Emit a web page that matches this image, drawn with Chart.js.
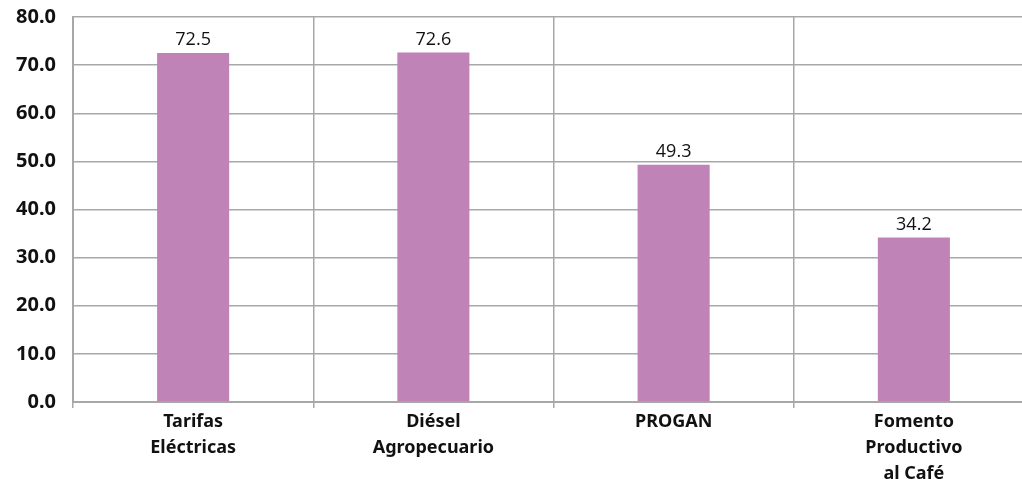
<!DOCTYPE html>
<html>
<head>
<meta charset="utf-8">
<script src="https://cdn.jsdelivr.net/npm/chart.js@4/dist/chart.umd.min.js"></script>
<style>
  html, body { margin: 0; padding: 0; background: #fff; overflow: hidden; }
  #wrap { width: 1036px; height: 479px; }
</style>
</head>
<body>
<div id="wrap"><canvas id="bars" width="1036" height="479"></canvas></div>
<script>
const categories = [
  ['Tarifas', 'Eléctricas'],
  ['Diésel', 'Agropecuario'],
  ['PROGAN'],
  ['Fomento', 'Productivo', 'al Café']
];
const values = [72.5, 72.6, 49.3, 34.2];
const yTicks = { min: 0, max: 80, step: 10 };

const gridColor = '#a8a8a8';

// labels over each bar
const valueLabels = {
  id: 'valueLabels',
  afterDatasetsDraw(chart) {
    const ctx = chart.ctx;
    const meta = chart.getDatasetMeta(0);
    ctx.save();
    ctx.font = '18px "Open Sans", sans-serif';
    ctx.fillStyle = '#111';
    ctx.textAlign = 'center';
    ctx.textBaseline = 'bottom';
    meta.data.forEach((bar, i) => {
      ctx.fillText(values[i].toFixed(1), bar.x, bar.y - 4);
    });
    ctx.restore();
  }
};

new Chart(document.getElementById('bars'), {
  type: 'bar',
  data: {
    labels: categories,
    datasets: [{
      data: values,
      backgroundColor: '#bf83b8',
      barPercentage: 0.3,
      categoryPercentage: 1.0
    }]
  },
  options: {
    responsive: false,
    animation: false,
    layout: { padding: { top: 17, right: 2, left: 0, bottom: 0 } },
    plugins: { legend: { display: false }, tooltip: { enabled: false } },
    scales: {
      x: {
        afterFit(scale) {
          scale.height = 77;
          scale.paddingLeft = 0;
          scale.paddingRight = 0;
        },
        grid: {
          offset: true,
          color: gridColor,
          lineWidth: 1.5,
          tickLength: 6
        },
        border: { color: gridColor, width: 2 },
        ticks: {
          color: '#111',
          padding: 1,
          maxRotation: 0,
          font: { family: '"Noto Sans", sans-serif', size: 18, weight: 'bold', lineHeight: 1.45 }
        }
      },
      y: {
        min: yTicks.min,
        max: yTicks.max,
        afterFit(scale) {
          scale.width = 73;
          scale.paddingTop = 0;
          scale.paddingBottom = 0;
        },
        grid: { color: gridColor, lineWidth: 1.5, drawTicks: false },
        border: { color: gridColor, width: 2 },
        ticks: {
          stepSize: yTicks.step,
          padding: 17,
          color: '#111',
          font: { family: '"Noto Sans", sans-serif', size: 20, weight: 'bold' },
          callback: v => v.toFixed(1)
        }
      }
    }
  },
  plugins: [valueLabels]
});
</script>
</body>
</html>
